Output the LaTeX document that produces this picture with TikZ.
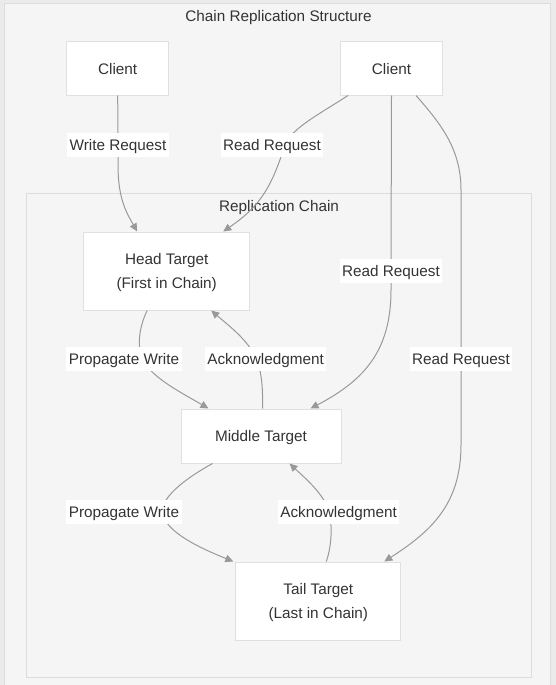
\documentclass[tikz,border=0pt]{standalone}
\usepackage{fontspec}
\setmainfont{Liberation Sans}
\usetikzlibrary{arrows.meta,calc}
\definecolor{bgout}{HTML}{EBEBEB}
\definecolor{clfill}{HTML}{F5F5F5}
\definecolor{clline}{HTML}{DCDCDC}
\definecolor{boxline}{HTML}{E0E0E0}
\definecolor{edgecol}{HTML}{999999}
\definecolor{txt}{HTML}{333333}
\tikzset{
  every node/.style={text=txt, font=\fontsize{15.3}{24}\selectfont, text depth=0pt},
  box/.style={draw=boxline, line width=1pt, fill=white, align=center, inner sep=0pt},
  lbl/.style={fill=white, inner xsep=2.5pt, inner ysep=0pt, minimum height=24pt},
  edge/.style={draw=edgecol, line width=1pt, -{Triangle[length=8pt,width=7.5pt]}},
  cluster/.style={draw=clline, line width=1pt, fill=clfill},
}
\begin{document}
\begin{tikzpicture}[x=1pt,y=-1pt]
\useasboundingbox (0,0) rectangle (556,685);
\fill[bgout] (0,0) rectangle (556,685);
\path[cluster] (4.5,3.5) rectangle (550,700);
\path[cluster] (26.5,193) rectangle (531.5,677);
\node (title) at (278.5,16) {Chain Replication Structure};
\node (chainlbl) at (279,206) {Replication Chain};

\node[box, minimum width=102pt, minimum height=53pt] (c1) at (117.7,68.5) {Client};
\node[box, minimum width=102pt, minimum height=53pt] (c2) at (391.5,68.5) {Client};
\node[box, minimum width=166pt, minimum height=78pt] (head) at (166.7,271) {Head Target\\(First in Chain)};
\node[box, minimum width=160pt, minimum height=54pt] (mid) at (261,436) {Middle Target};
\node[box, minimum width=165pt, minimum height=78pt] (tail) at (318.3,601) {Tail Target\\(Last in Chain)};

% label positions
\coordinate (lw) at (118,145);
\coordinate (lr1) at (272,145);
\coordinate (lr2) at (391,271);
\coordinate (lr3) at (461,359);
\coordinate (lp1) at (124,359);
\coordinate (la1) at (265.6,359);
\coordinate (lp2) at (124,512);
\coordinate (la2) at (338.6,512);

% edges
\draw[edge] (c1.south) -- (lw) -- (118,165) .. controls (118,198) and (126,212) .. ($(head.north west)+(54,0)$);
\draw[edge] ($(c2.south west)+(8,0)$) .. controls (318,115) and (292,128) .. (285,145) .. controls (272,185) and (262,205) .. ($(head.north west)+(140,0)$);
\draw[edge] (c2.south) -- (lr2) -- (391,290) .. controls (391,350) and (365,380) .. ($(mid.north west)+(130,0)$);
\draw[edge] ($(c2.south west)+(76,0)$) .. controls (442,125) and (461,150) .. (461,190) -- (lr3) -- (461,445) .. controls (461,505) and (430,532) .. ($(tail.north west)+(149,0)$);
\draw[edge] ($(head.south west)+(64,0)$) .. controls (140,325) and (136,345) .. (143,360) .. controls (152,378) and (182,393) .. ($(mid.north west)+(28,0)$);
\draw[edge] ($(mid.north west)+(82,0)$) .. controls (263,390) and (262,372) .. (256,358) .. controls (248,340) and (228,325) .. ($(head.south west)+(128,0)$);
\draw[edge] ($(mid.south west)+(32,0)$) .. controls (190,476) and (162,495) .. (162,512) .. controls (165,532) and (200,548) .. ($(tail.north west)+(-2,0)$);
\draw[edge] ($(tail.north west)+(91,0)$) .. controls (331,548) and (333,528) .. (329,512) .. controls (325,495) and (305,478) .. ($(mid.south west)+(109,0)$);

% labels
\node[lbl] at (lw) {Write Request};
\node[lbl] at (lr1) {Read Request};
\node[lbl] at (lr2) {Read Request};
\node[lbl] at (lr3) {Read Request};
\node[lbl] at (lp1) {Propagate Write};
\node[lbl] at (la1) {Acknowledgment};
\node[lbl] at (lp2) {Propagate Write};
\node[lbl] at (la2) {Acknowledgment};
\end{tikzpicture}
\end{document}
